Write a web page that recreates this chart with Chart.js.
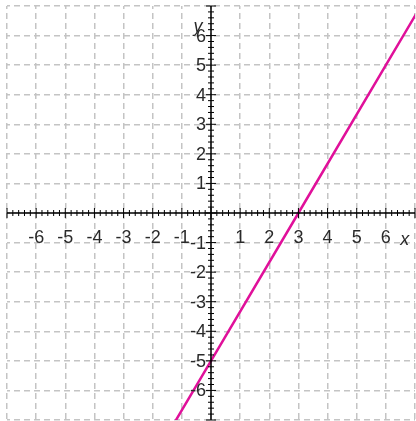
<!DOCTYPE html>
<html>
<head>
<script src="https://cdn.jsdelivr.net/npm/chart.js@4.4.0/dist/chart.umd.min.js"></script>
<style>
  html, body { margin: 0; padding: 0; background: #fff; overflow: hidden; }
  #wrap { width: 416px; height: 421px; }
</style>
</head>
<body>
<div id="wrap"><canvas id="c"></canvas></div>
<script>
// data
const linePoints = [
  { x: -3, y: -10 }, { x: 0, y: -5 }, { x: 3, y: 0 }, { x: 6, y: 5 }, { x: 9, y: 10 }
];
const xTickValues = [-6, -5, -4, -3, -2, -1, 1, 2, 3, 4, 5, 6];
const xTickLabels = ['-6', '-5', '-4', '-3', '-2', '-1', '1', '2', '3', '4', '5', '6'];
const yTickValues = [6, 5, 4, 3, 2, 1, -1, -2, -3, -4, -5, -6];
const yTickLabels = ['6', '5', '4', '3', '2', '1', '-1', '-2', '-3', '-4', '-5', '-6'];
const axisMin = -7, axisMax = 7;

const FONT = '18px "Liberation Sans Narrow", "Liberation Sans", Arial, sans-serif';

const axesPlugin = {
  id: 'axes',
  afterDatasetsDraw(chart) {
    const ctx = chart.ctx;
    const xs = chart.scales.x, ys = chart.scales.y;
    const a = chart.chartArea;
    const ox = xs.getPixelForValue(0), oy = ys.getPixelForValue(0);
    ctx.save();
    ctx.strokeStyle = '#000';
    ctx.lineWidth = 1.5;
    ctx.beginPath();
    ctx.moveTo(a.left, oy); ctx.lineTo(a.right, oy);
    ctx.moveTo(ox, a.top); ctx.lineTo(ox, a.bottom);
    ctx.stroke();

    // tick marks: majors each unit, minors every 0.2
    ctx.lineWidth = 1;
    ctx.beginPath();
    for (let i = axisMin * 5; i <= axisMax * 5; i++) {
      const v = i / 5;
      const len = (i % 5 === 0) ? 5 : 3;
      const px = xs.getPixelForValue(v);
      if (px >= a.left - 1 && px <= a.right + 1) {
        ctx.moveTo(px, oy - len); ctx.lineTo(px, oy + len);
      }
      const py = ys.getPixelForValue(v);
      if (py >= a.top - 1 && py <= a.bottom + 1) {
        ctx.moveTo(ox - len, py); ctx.lineTo(ox + len, py);
      }
    }
    ctx.stroke();

    ctx.fillStyle = '#2a2a2a';
    ctx.font = FONT;
    ctx.textAlign = 'center';
    ctx.textBaseline = 'middle';
    xTickValues.forEach((v, i) => {
      ctx.fillText(xTickLabels[i], xs.getPixelForValue(v), oy + 25);
    });
    ctx.textAlign = 'right';
    yTickValues.forEach((v, i) => {
      ctx.fillText(yTickLabels[i], ox - 5, ys.getPixelForValue(v) + 1);
    });

    ctx.font = 'italic ' + FONT;
    ctx.textAlign = 'center';
    ctx.fillText('x', xs.getPixelForValue(6.65), oy + 27);
    ctx.fillText('y', ox - 13, ys.getPixelForValue(6.3));
    ctx.restore();
  }
};

new Chart(document.getElementById('c'), {
  type: 'scatter',
  data: {
    datasets: [{
      data: linePoints,
      showLine: true,
      borderColor: '#e0109a',
      borderWidth: 2.5,
      pointRadius: 0,
      fill: false
    }]
  },
  options: {
    responsive: true,
    maintainAspectRatio: false,
    animation: false,
    layout: { padding: { left: 7, top: 6, right: 1, bottom: 1 } },
    plugins: { legend: { display: false }, tooltip: { enabled: false } },
    scales: {
      x: {
        type: 'linear', min: axisMin, max: axisMax,
        ticks: { display: false, stepSize: 1 },
        grid: { color: '#c4c4c4', lineWidth: 1.5, drawTicks: false },
        border: { display: false, dash: [6, 4], dashOffset: 3 }
      },
      y: {
        type: 'linear', min: axisMin, max: axisMax,
        ticks: { display: false, stepSize: 1 },
        grid: { color: '#c4c4c4', lineWidth: 1.5, drawTicks: false },
        border: { display: false, dash: [6, 4], dashOffset: 3 }
      }
    }
  },
  plugins: [axesPlugin]
});
</script>
</body>
</html>
